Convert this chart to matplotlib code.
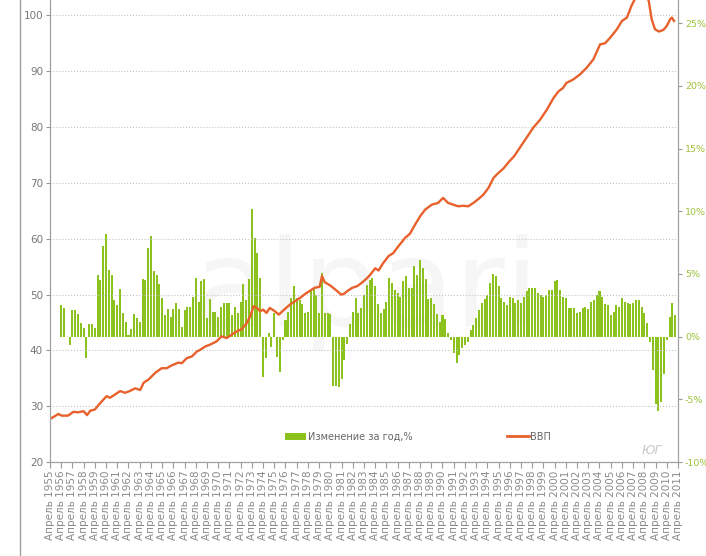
import matplotlib
matplotlib.use('Agg')
import matplotlib.pyplot as plt
from matplotlib.lines import Line2D
from matplotlib.patches import Patch

# Quarterly change over the year, %, first bar = April 1956, step one quarter
change_pct = [
    2.5, 2.25, 0.0, -0.7, 2.1, 2.1, 1.8, 1.1, 0.7, -1.7,
    1.0, 1.0, 0.7, 4.9, 4.5, 7.2, 8.2, 5.3, 4.9, 2.9,
    2.5, 3.8, 1.9, 1.2, 0.1, 0.6, 1.8, 1.5, 1.2, 4.6,
    4.5, 7.1, 8.0, 5.2, 4.9, 4.2, 3.1, 1.7, 2.2, 1.6,
    2.2, 2.7, 2.2, 0.8, 2.1, 2.4, 2.4, 3.2, 4.7, 2.8,
    4.4, 4.6, 1.5, 3.0, 2.0, 2.0, 1.6, 2.4, 2.7, 2.7,
    2.7, 1.7, 2.4, 1.9, 2.8, 4.2, 2.9, 4.6, 10.2, 7.9,
    6.7, 4.7, -3.2, -1.7, 0.3, -0.8, 1.9, -1.6, -2.8, -0.3,
    1.3, 2.0, 3.1, 4.0, 3.1, 2.9, 2.6, 1.9, 2.0, 3.6,
    3.9, 3.3, 1.9, 5.1, 1.9, 1.9, 1.8, -3.9, -3.9, -4.0,
    -3.4, -1.9, -0.6, 1.0, 2.0, 3.1, 1.9, 2.3, 3.3, 4.1,
    4.5, 4.7, 4.0, 2.6, 1.9, 2.2, 2.8, 4.7, 4.3, 3.7,
    3.5, 3.2, 4.4, 4.8, 3.9, 3.9, 5.6, 4.9, 6.1, 5.5,
    4.6, 3.0, 3.1, 2.6, 1.8, 1.2, 1.7, 1.4, 0.3, -0.3,
    -1.3, -2.1, -1.5, -0.9, -0.7, -0.4, 0.5, 0.9, 1.5, 2.1,
    2.7, 3.0, 3.3, 4.3, 5.0, 4.8, 4.0, 3.1, 2.8, 2.5,
    3.2, 3.1, 2.7, 2.9, 2.7, 3.2, 3.6, 3.9, 3.9, 3.9,
    3.5, 3.3, 3.2, 3.3, 3.7, 3.7, 4.4, 4.5, 3.7, 3.2,
    3.1, 2.3, 2.3, 2.3, 1.9, 2.0, 2.3, 2.4, 2.2, 2.8,
    2.9, 3.3, 3.6, 3.2, 2.6, 2.5, 1.7, 2.0, 2.5, 2.4,
    3.1, 2.8, 2.7, 2.6, 2.7, 2.9, 2.9, 2.4, 1.9, 1.1,
    -0.4, -2.7, -5.4, -5.9, -5.2, -3.0, -0.3, 1.6, 2.7, 1.7,
]
change_start = 1956.0

# GDP line (x in years, 1955 = April 1955)
gdp_x = [
    1955.0, 1955.75, 1956.05, 1956.6, 1957.1, 1957.5, 1958.0, 1958.3, 1958.6, 1959.0,
    1959.45, 1960.05, 1960.35, 1960.8, 1961.25, 1961.7, 1962.1, 1962.6, 1963.05, 1963.35,
    1963.8, 1964.4, 1964.95, 1965.4, 1965.85, 1966.45, 1966.75, 1967.2, 1967.65, 1968.1,
    1968.4, 1968.85, 1969.25, 1969.85, 1970.3, 1970.75, 1971.2, 1971.65, 1972.1, 1972.55,
    1972.85, 1973.15, 1973.45, 1973.75, 1974.0, 1974.3, 1974.6, 1975.05, 1975.4, 1976.0,
    1976.4, 1976.85, 1977.3, 1977.75, 1978.2, 1978.6, 1979.05, 1979.25, 1979.5, 1980.0,
    1980.5, 1980.95, 1981.2, 1981.5, 1981.95, 1982.4, 1982.8, 1983.2, 1983.5, 1984.0,
    1984.3, 1984.7, 1985.2, 1985.6, 1986.05, 1986.65, 1987.1, 1987.55, 1988.0, 1988.45,
    1989.05, 1989.6, 1990.05, 1990.5, 1990.95, 1991.4, 1991.85, 1992.3, 1992.75, 1993.2,
    1993.65, 1994.1, 1994.55, 1995.0, 1995.45, 1995.85, 1996.4, 1996.9, 1997.5, 1998.1,
    1998.7, 1999.3, 1999.9, 2000.35, 2000.75, 2001.05, 2001.65, 2002.25, 2002.85, 2003.45,
    2004.05, 2004.5, 2004.95, 2005.55, 2006.0, 2006.45, 2006.85, 2007.3, 2007.7, 2008.1,
    2008.4, 2008.65, 2008.95, 2009.3, 2009.7, 2010.0, 2010.3, 2010.45, 2010.65,
]
gdp = [
    27.7, 28.6, 28.3, 28.3, 29.0, 28.9, 29.1, 28.4, 29.2, 29.4,
    30.5, 31.8, 31.5, 32.1, 32.7, 32.4, 32.7, 33.2, 32.9, 34.2,
    34.8, 36.0, 36.8, 36.8, 37.3, 37.8, 37.7, 38.6, 38.9, 39.8,
    40.1, 40.7, 41.0, 41.6, 42.5, 42.2, 42.8, 43.4, 43.8, 44.9,
    46.1, 47.9, 47.6, 47.0, 47.3, 46.7, 47.6, 47.0, 46.4, 47.5,
    48.2, 48.8, 49.4, 50.1, 50.7, 51.2, 51.4, 53.3, 52.2, 51.6,
    50.8, 50.0, 50.1, 50.6, 51.2, 51.5, 52.1, 52.8, 53.4, 54.7,
    54.3, 55.6, 56.9, 57.4, 58.6, 60.1, 60.9, 62.5, 64.0, 65.2,
    66.1, 66.4, 67.3, 66.4, 66.1, 65.8, 65.9, 65.8, 66.4, 67.1,
    67.9, 69.1, 70.9, 71.8, 72.6, 73.6, 74.8, 76.3, 78.1, 79.9,
    81.3, 83.1, 85.2, 86.4, 87.0, 87.9, 88.5, 89.4, 90.6, 92.1,
    94.8, 95.0, 96.0, 97.5, 99.0, 99.6, 101.7, 103.5, 104.8, 104.2,
    102.5, 99.3, 97.5, 97.1, 97.4, 98.1, 99.3, 99.6, 99.0,
]

years = list(range(1955, 2012))
year_labels = [f'Апрель {y}' for y in years]
left_ticks = [20, 30, 40, 50, 60, 70, 80, 90, 100]
right_ticks = [-10, -5, 0, 5, 10, 15, 20, 25]

green = '#8cc21d'
orange = '#e8612c'
grey = '#8a8a8a'

W, H = 706, 556
fig = plt.figure(figsize=(W / 100, H / 100), dpi=100)
ax = fig.add_axes([50 / W, 94 / H, 628 / W, 462 / H])
ax2 = ax.twinx()
ax.set_zorder(2)
ax.patch.set_visible(False)

# bars on the right axis
bar_x = [change_start + i * 0.25 for i in range(len(change_pct))]
ax2.bar(bar_x, change_pct, width=0.18, color=green, zorder=2)
ax2.text(1983.2, 3.5, 'alpari', fontsize=88, color='#f6f6f6', ha='center', va='center', zorder=0)
ax2.set_ylim(-10, 26.85)
ax2.set_yticks(right_ticks)
ax2.set_yticklabels([f'{t}%' for t in right_ticks])
ax2.tick_params(axis='y', color='#999999', labelcolor='#9cc23a', labelsize=6.8, length=3, pad=2)

# GDP line on the left axis
ax.plot(gdp_x, gdp, color=orange, lw=1.7, solid_joinstyle='round')
ax.set_ylim(20, 102.75)
ax.set_yticks(left_ticks)
ax.tick_params(axis='y', colors='#999999', labelcolor='#777777', labelsize=7.5, length=3, pad=2)
ax.yaxis.grid(True, linestyle=':', color='#c4c4c4', lw=0.8)

ax.set_xlim(1955, 2011)
ax.set_xticks(years)
ax.set_xticklabels(year_labels, rotation=90, fontsize=7.5, color=grey)
ax.tick_params(axis='x', colors='#999999', labelcolor=grey, length=4, pad=2)

for a in (ax, ax2):
    a.spines['top'].set_visible(False)
    for s in ('left', 'right', 'bottom'):
        a.spines[s].set_color('#a0a0a0')

# legend
handles = [Patch(facecolor=green, edgecolor='none'), Line2D([0], [0], color=orange, lw=2)]
leg = ax.legend(handles, ['Изменение за год,%', 'ВВП'], ncol=2, frameon=False,
                loc='center left', bbox_to_anchor=(0.374, 0.055), fontsize=7,
                borderpad=0, borderaxespad=0,
                handlelength=2.2, handleheight=0.75, handletextpad=0.2, columnspacing=9.7)
for t in leg.get_texts():
    t.set_color('#666666')

fig.text(652 / W, 1 - 450 / H, 'ЮГ', fontsize=9, color='#c8c8c8', style='italic', ha='center', va='center')
fig.add_artist(Line2D([20 / W, 20 / W], [0, 1], color='#a0a0a0', lw=1))

fig.savefig('out.png', dpi=100)
